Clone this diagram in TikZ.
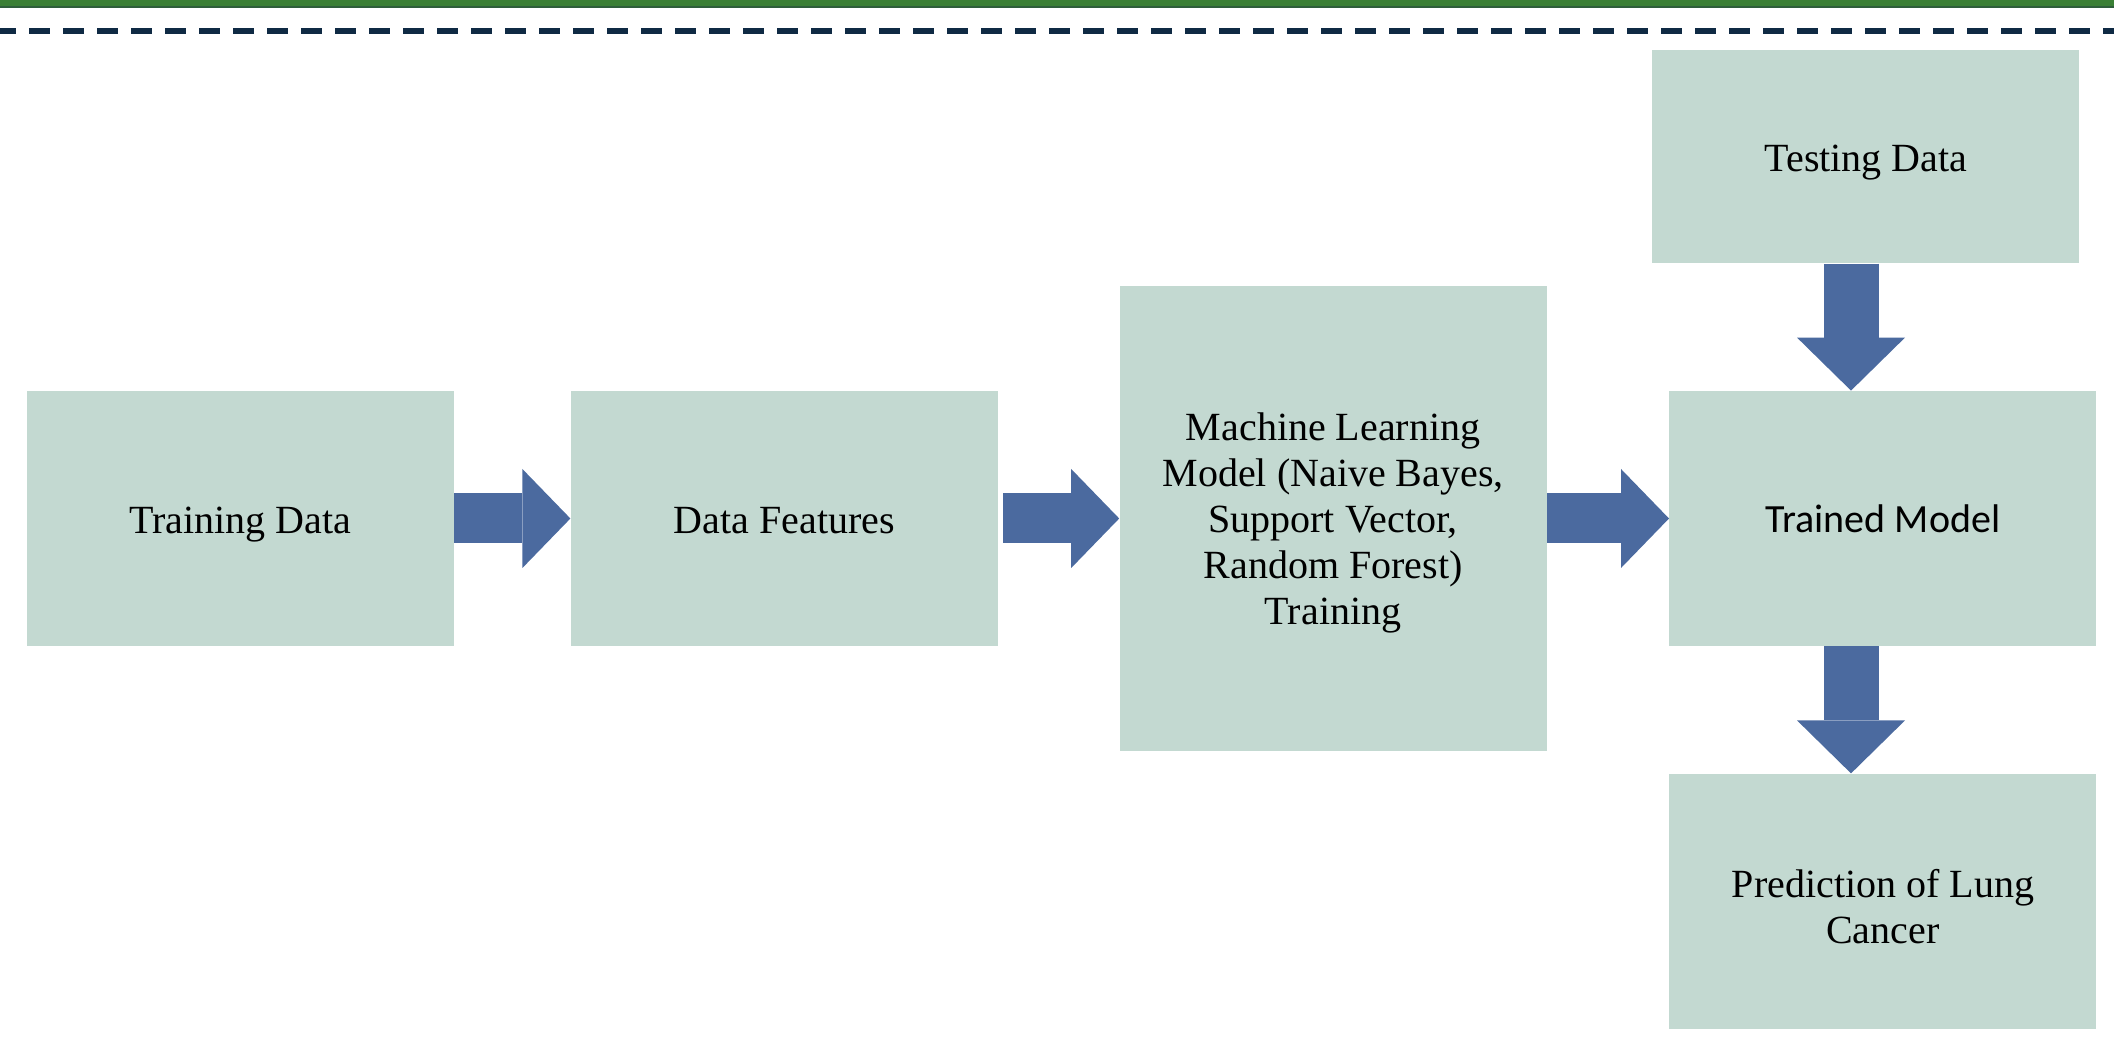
\documentclass[tikz,border=0pt]{standalone}
\usepackage{fontspec}
\setmainfont{Liberation Serif}
\newfontfamily\modelfont{Carlito}
\usepackage{xcolor}
\usetikzlibrary{positioning,arrows.meta}

\definecolor{stagefill}{HTML}{C3D9D1}
\definecolor{flowblue}{HTML}{4B6A9F}
\definecolor{rulenavy}{HTML}{0F2A44}
\definecolor{bargreen}{HTML}{3A7F35}
\definecolor{bardark}{HTML}{2E5E3B}

\begin{document}
\begin{tikzpicture}[
            x=0.5pt, y=-0.5pt,
            font=\fontsize{20}{23}\selectfont,
            node distance=63.5pt and 58pt,
            stage/.style={
                    fill=stagefill, inner sep=0pt,
                    minimum width=213.5pt, % all boxes share one width
                    minimum height=127.5pt,
                    align=center
                },
            oneline/.style={text height=15pt, text depth=0pt},
            flowright/.style={flowblue, line width=25pt,
                    -{Triangle[length=24pt, width=49.5pt, line width=0pt]}},
            flowdown/.style={flowblue, line width=27.5pt,
                    -{Triangle[length=26.5pt, width=54pt, line width=0pt]}},
            ]
            \useasboundingbox (0,0) rectangle (2114,1042);

            % page header: green bar and dashed rule
            \fill[bargreen] (0,0) rectangle (2114,6);
            \fill[bardark] (0,6) rectangle (2114,8);
            \draw[rulenavy, line width=3pt, dash pattern=on 10.5pt off 6.5pt, dash phase=2.5pt] (0,31) -- (2114,31);

            \node[stage, oneline] (train) at (240.5,518.5) {Training Data};
            \node[stage, oneline, right=58pt of train] (feat) {Data Features};
            \node[stage, right=60.5pt of feat, minimum height=232pt, text depth=0pt] (ml) {Machine Learning\\Model (Naive Bayes,\\Support Vector,\\Random Forest)\\Training};
            \node[stage, right=61pt of ml, font=\modelfont\fontsize{20}{23}\selectfont] (trained) {Trained Model};
            \node[stage, oneline, above=of trained, xshift=-8.5pt, minimum height=106.5pt] (test) {Testing Data};
            \node[stage, below=of trained, text height=42pt, text depth=0pt] (pred) {Prediction of Lung\\Cancer};

            \coordinate (drop) at (1851,0);

            \draw[flowright] (train) -- (feat);
            \draw[flowright, shorten <=2.5pt] (feat) -- (ml);
            \draw[flowright] (ml) -- (trained);
            \draw[flowdown] (test.south -| drop) -- (trained.north -| drop);
            \draw[flowdown] (trained.south -| drop) -- (pred.north -| drop);
        \end{tikzpicture}
\end{document}
